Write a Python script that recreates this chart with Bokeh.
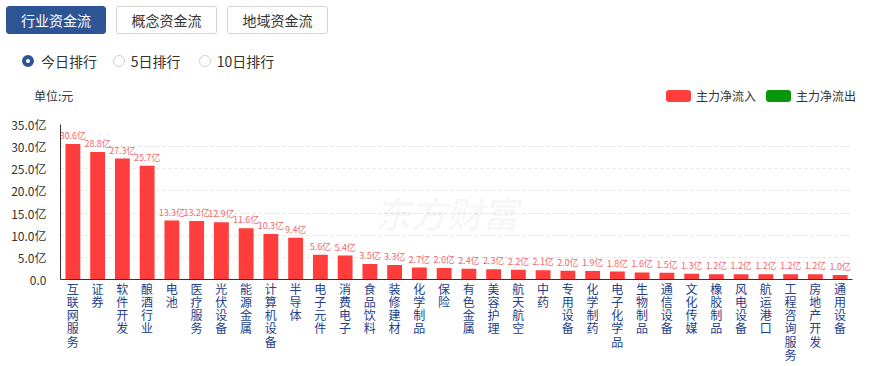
from bokeh.plotting import figure
from bokeh.models import ColumnDataSource, FactorRange, FixedTicker, Label, Div
from bokeh.layouts import column
from bokeh.core.properties import value
from bokeh.embed import file_html
from bokeh.resources import INLINE

FONT = "Noto Sans CJK SC"

categories = ["互联网服务", "证券", "软件开发", "酿酒行业", "电池", "医疗服务", "光伏设备", "能源金属",
              "计算机设备", "半导体", "电子元件", "消费电子", "食品饮料", "装修建材", "化学制品", "保险",
              "有色金属", "美容护理", "航天航空", "中药", "专用设备", "化学制药", "电子化学品", "生物制品",
              "通信设备", "文化传媒", "橡胶制品", "风电设备", "航运港口", "工程咨询服务", "房地产开发", "通用设备"]
inflow = [30.6, 28.8, 27.3, 25.7, 13.3, 13.2, 12.9, 11.6, 10.3, 9.4, 5.6, 5.4, 3.5, 3.3, 2.7, 2.6,
          2.4, 2.3, 2.2, 2.1, 2.0, 1.9, 1.8, 1.6, 1.5, 1.3, 1.2, 1.2, 1.2, 1.2, 1.2, 1.0]
y_ticks = [0, 5, 10, 15, 20, 25, 30, 35]
y_tick_labels = ["0.0", "5.0亿", "10.0亿", "15.0亿", "20.0亿", "25.0亿", "30.0亿", "35.0亿"]
series_names = ["主力净流入", "主力净流出"]
unit_text = "单位:元"
tabs = ["行业资金流", "概念资金流", "地域资金流"]
radios = ["今日排行", "5日排行", "10日排行"]

RED = "#ff3d3d"
GREEN = "#08960a"
BLUE = "#2d5596"
series_colors = [RED, GREEN]

# ---------------- main chart ----------------
factors = ["\n".join(c) for c in categories]   # vertical (stacked) category labels

src = ColumnDataSource(dict(x=factors, top=inflow, lbl=[f"{v:.1f}亿" for v in inflow]))

p = figure(frame_width=792, frame_height=155, x_range=FactorRange(factors=factors), y_range=(0, 35),
           output_backend="svg", toolbar_location=None,
           min_border_left=60, min_border_right=21, min_border_top=12, min_border_bottom=83)
p.outline_line_color = None
p.background_fill_color = "white"

p.vbar(x="x", top="top", width=0.6, source=src, fill_color=RED, line_color=None)

p.text(x="x", y="top", text="lbl", source=src, text_align="center", text_baseline="bottom",
       y_offset=-2, text_font_size="9px", text_color="#f0696b", text_font=value(FONT))

p.yaxis.ticker = FixedTicker(ticks=y_ticks)
p.yaxis.major_label_overrides = {t: l for t, l in zip(y_ticks, y_tick_labels)}
p.yaxis.major_label_text_font = FONT
p.yaxis.major_label_text_font_size = "12px"
p.yaxis.major_label_text_color = "#333333"
p.yaxis.major_tick_line_color = None
p.yaxis.minor_tick_line_color = None
p.yaxis.major_label_standoff = 8
p.yaxis.axis_line_color = "#333333"

p.xaxis.major_label_text_font = FONT
p.xaxis.major_label_text_font_size = "12px"
p.xaxis.major_label_text_color = "#233e8b"
p.xaxis.major_label_text_line_height = 0.78
p.xaxis.major_tick_line_color = None
p.xaxis.major_tick_out = 0
p.xaxis.major_label_standoff = 0
p.xaxis.axis_line_color = "#333333"
p.xaxis.major_label_orientation = "horizontal"

p.xgrid.grid_line_color = None
p.ygrid.grid_line_color = "#e3e3e3"
p.ygrid.grid_line_dash = "3 3"

# watermark
p.add_layout(Label(x=15.6, y=15.3, text="东方财富", text_align="center", text_baseline="middle",
                   text_font=FONT, text_font_size="36px", text_font_style="bold italic",
                   text_color="#000000", text_alpha=0.04))

# ---------------- header: tabs, radios, unit, legend ----------------
btn_pos = [(6, 100), (116, 101), (227, 101)]
html = [f'<div style="position:relative;width:873px;height:112px;font-family:\'{FONT}\',sans-serif;">']
for i, (t, (left, w)) in enumerate(zip(tabs, btn_pos)):
    if i == 0:
        style = f"background:{BLUE};color:#fff;border:1px solid {BLUE};"
    else:
        style = "background:#fff;color:#333;border:1px solid #d4d4d4;"
    html.append(f'<div style="position:absolute;left:{left}px;top:6px;width:{w}px;height:28px;'
                f'box-sizing:border-box;border-radius:3px;font-size:14px;line-height:26px;'
                f'text-align:center;{style}">{t}</div>')
radio_pos = [(21.5, 41), (112.7, 130.7), (198.5, 216.7)]
for i, (t, (cl, tl)) in enumerate(zip(radios, radio_pos)):
    if i == 0:
        cstyle = f"border:4px solid {BLUE};background:#fff;"
    else:
        cstyle = "border:1px solid #cfcfcf;background:#fff;"
    html.append(f'<div style="position:absolute;left:{cl}px;top:55px;width:12px;height:12px;'
                f'box-sizing:border-box;border-radius:50%;{cstyle}"></div>')
    html.append(f'<div style="position:absolute;left:{tl}px;top:51px;font-size:14px;line-height:20px;'
                f'color:#333;white-space:nowrap;">{t}</div>')
# unit
html.append(f'<div style="position:absolute;left:34px;top:88px;font-size:12px;line-height:16px;'
            f'color:#333;white-space:nowrap;">{unit_text}</div>')
# legend
legend_pos = [(666, 696), (766, 796)]
for name, color, (gl, tl) in zip(series_names, series_colors, legend_pos):
    html.append(f'<div style="position:absolute;left:{gl}px;top:90px;width:25px;height:12px;'
                f'border-radius:3px;background:{color};"></div>')
    html.append(f'<div style="position:absolute;left:{tl}px;top:88px;font-size:12px;line-height:16px;'
                f'color:#333;white-space:nowrap;">{name}</div>')
html.append('</div>')
div = Div(text="".join(html), width=873, height=112, margin=(0, 0, 0, 0))

layout = column(div, p, spacing=0)
open("out.html", "w").write(file_html(layout, INLINE))
